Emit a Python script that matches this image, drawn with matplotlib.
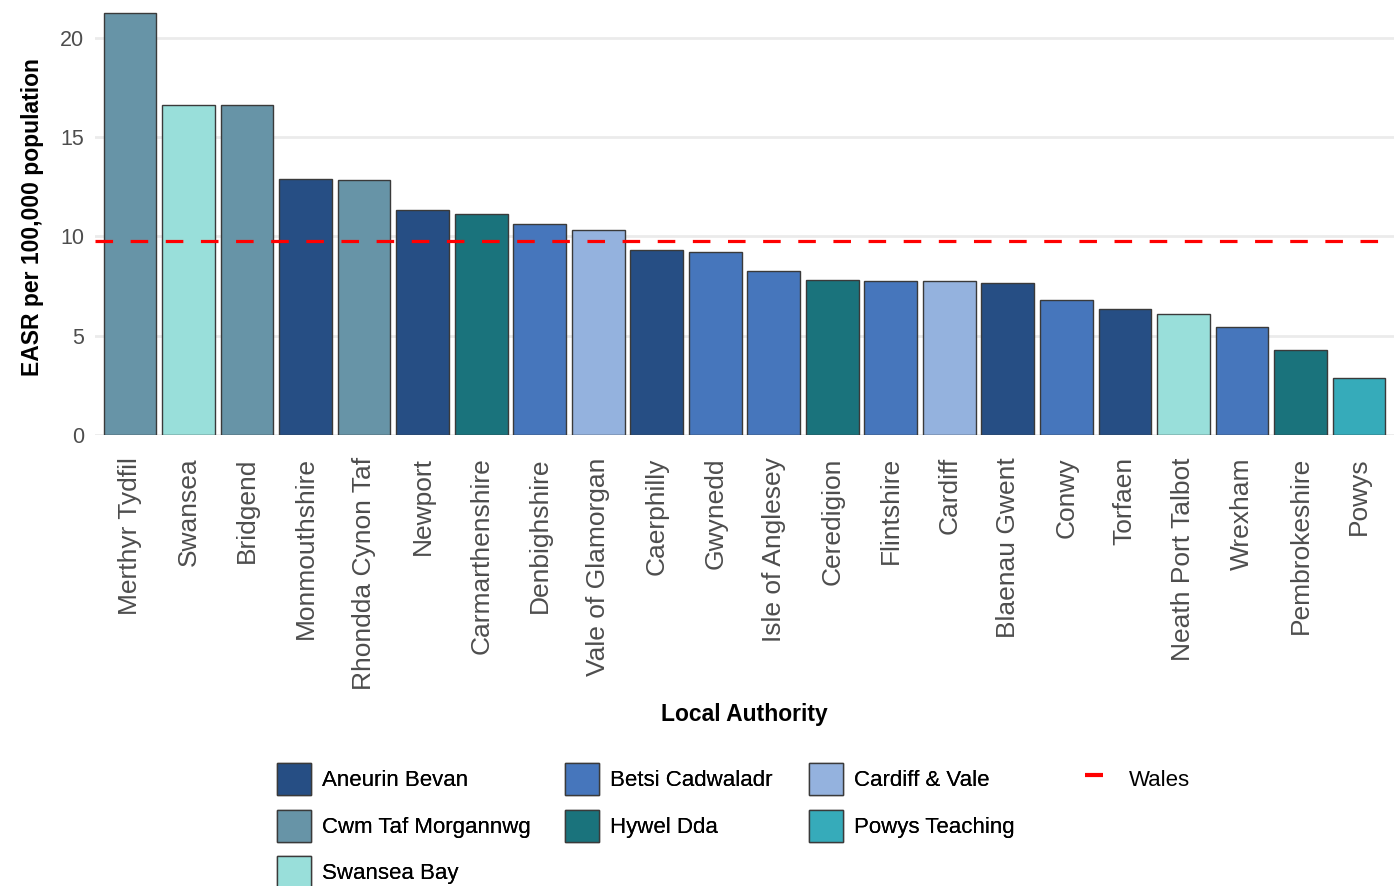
#!/usr/bin/env python3

import matplotlib

matplotlib.use("Agg")
import matplotlib.pyplot as plt
from matplotlib.lines import Line2D
from matplotlib.patches import Patch

plt.rcParams["font.family"] = ["Liberation Sans", "DejaVu Sans"]

AUTHORITIES = [
    "Merthyr Tydfil", "Swansea", "Bridgend", "Monmouthshire", "Rhondda Cynon Taf",
    "Newport", "Carmarthenshire", "Denbighshire", "Vale of Glamorgan", "Caerphilly",
    "Gwynedd", "Isle of Anglesey", "Ceredigion", "Flintshire", "Cardiff",
    "Blaenau Gwent", "Conwy", "Torfaen", "Neath Port Talbot", "Wrexham",
    "Pembrokeshire", "Powys",
]
EASR = [
    21.26, 16.62, 16.62, 12.90, 12.85,
    11.33, 11.13, 10.63, 10.33, 9.32,
    9.22, 8.26, 7.81, 7.76, 7.76,
    7.66, 6.80, 6.35, 6.10, 5.44,
    4.28, 2.87,
]
HEALTH_BOARD = [
    "Cwm Taf Morgannwg", "Swansea Bay", "Cwm Taf Morgannwg", "Aneurin Bevan", "Cwm Taf Morgannwg",
    "Aneurin Bevan", "Hywel Dda", "Betsi Cadwaladr", "Cardiff & Vale", "Aneurin Bevan",
    "Betsi Cadwaladr", "Betsi Cadwaladr", "Hywel Dda", "Betsi Cadwaladr", "Cardiff & Vale",
    "Aneurin Bevan", "Betsi Cadwaladr", "Aneurin Bevan", "Swansea Bay", "Betsi Cadwaladr",
    "Hywel Dda", "Powys Teaching",
]
WALES_RATE = 9.77

BOARD_COLOURS = {
    "Aneurin Bevan": "#264E84",
    "Betsi Cadwaladr": "#4676BC",
    "Cardiff & Vale": "#94B2DE",
    "Cwm Taf Morgannwg": "#6794A7",
    "Hywel Dda": "#1A737C",
    "Powys Teaching": "#36ABBA",
    "Swansea Bay": "#99DFDA",
}

# legend layout, ggplot fills the key grid row by row across 4 columns
LEGEND_COLUMNS = [
    ["Aneurin Bevan", "Cwm Taf Morgannwg", "Swansea Bay"],
    ["Betsi Cadwaladr", "Hywel Dda"],
    ["Cardiff & Vale", "Powys Teaching"],
]

W, H = 1397, 886
fig = plt.figure(figsize=(W / 100, H / 100), dpi=100)
ax = fig.add_axes([95 / W, 1 - 435 / H, (1394 - 95) / W, 435 / H])

x = range(len(AUTHORITIES))
ax.bar(
    x,
    EASR,
    width=0.9,
    color=[BOARD_COLOURS[b] for b in HEALTH_BOARD],
    edgecolor="#3a3a3a",
    linewidth=1.0,
    zorder=2,
)
ax.axhline(WALES_RATE, color="#FF0000", linewidth=2.3, dashes=(5.5, 5.5), zorder=3)

ax.set_xlim(-0.6, len(AUTHORITIES) - 0.4)
ax.set_ylim(0, 21.9)
ax.set_yticks([0, 5, 10, 15, 20])
ax.set_xticks(list(x))
ax.set_xticklabels(AUTHORITIES, rotation=90, fontsize=19, color="#4D4D4D")
ax.tick_params(axis="y", labelsize=15.5, labelcolor="#4D4D4D", length=0, pad=8)
ax.tick_params(axis="x", length=0, pad=16)
ax.grid(True, axis="y", color="#EBEBEB", linewidth=2, zorder=0)
ax.set_axisbelow(True)
for spine in ax.spines.values():
    spine.set_visible(False)

ax.set_ylabel("EASR per 100,000 population", fontsize=16.5, fontweight="bold", labelpad=11)
ax.set_xlabel("Local Authority", fontsize=16.5, fontweight="bold", labelpad=9)

legend_kw = dict(
    loc="upper left",
    frameon=False,
    fontsize=16,
    handletextpad=0.5,
    labelspacing=0.64,
    borderpad=0,
    borderaxespad=0,
)
col_left = [277, 565, 809]
for left, boards in zip(col_left, LEGEND_COLUMNS):
    handles = [
        Patch(facecolor=BOARD_COLOURS[b], edgecolor="#3a3a3a", linewidth=1.0) for b in boards
    ]
    leg = fig.legend(
        handles,
        boards,
        bbox_to_anchor=(left / W, 1 - 763 / H),
        handlelength=1.53,
        handleheight=1.86,
        **legend_kw,
    )
    fig.add_artist(leg)

wales = Line2D([], [], color="#FF0000", marker="_", linestyle="none", markersize=13, markeredgewidth=3)
fig.legend(
    [wales],
    ["Wales"],
    bbox_to_anchor=(1071 / W, 1 - 763 / H),
    handlelength=2.1,
    handleheight=1.86,
    **legend_kw,
)

fig.savefig("out.png", dpi=100)
